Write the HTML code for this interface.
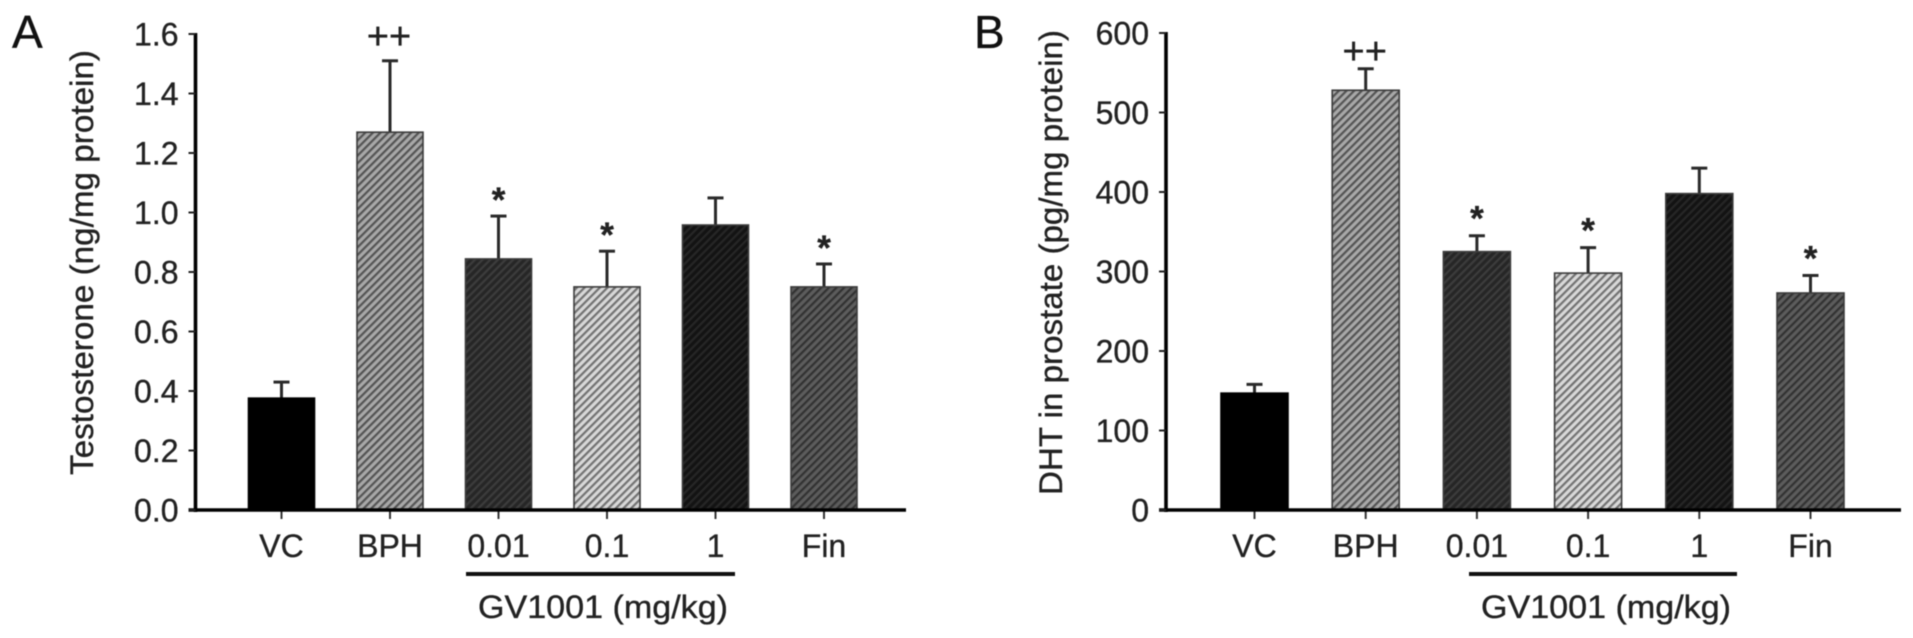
<!DOCTYPE html>
<html lang="en">
<head>
<meta charset="utf-8">
<title>Testosterone and DHT bar charts</title>
<style>
  html, body { margin: 0; padding: 0; background: #fff; }
  body { width: 1913px; height: 638px; overflow: hidden; }
  svg { display: block; filter: blur(0.55px); }
  text { font-family: "Liberation Sans", Arial, sans-serif; fill: #222; stroke: #222; stroke-width: 0.35px; }
</style>
</head>
<body>
<svg id="figure" xmlns="http://www.w3.org/2000/svg" width="1913" height="638" viewBox="0 0 1913 638">
  <defs id="hatches"></defs>
  <rect width="1913" height="638" fill="#fff"></rect>
  <text x="12" y="48" font-size="46" style="fill:#111;stroke:#111">A</text>
  <text x="974" y="48" font-size="46" style="fill:#111;stroke:#111">B</text>
  <g id="panel-a"></g>
  <g id="panel-b"></g>
</svg>
<script>
const categories = ['VC', 'BPH', '0.01', '0.1', '1', 'Fin'];
const testosteroneValues = [0.376, 1.27, 0.844, 0.75, 0.958, 0.75];
const testosteroneErrorTops = [0.43, 1.51, 0.988, 0.87, 1.049, 0.827];
const testosteroneTicks = ['0.0', '0.2', '0.4', '0.6', '0.8', '1.0', '1.2', '1.4', '1.6'];
const dhtValues = [147, 528, 325, 298, 398, 273];
const dhtErrorTops = [158, 555, 345, 330, 430, 295];
const dhtTicks = ['0', '100', '200', '300', '400', '500', '600'];
const significance = ['', '++', '*', '*', '', '*'];

const NS = 'http://www.w3.org/2000/svg';

function make(parent, tag, attrs, text) {
  const el = document.createElementNS(NS, tag);
  for (const k in attrs) el.setAttribute(k, attrs[k]);
  if (text !== undefined) el.textContent = text;
  parent.appendChild(el);
  return el;
}

/* Hatch fills: one per category (background colour, stripe colour) */
const hatchDefs = document.getElementById('hatches');
function addHatch(id, bg, fg) {
  const p = make(hatchDefs, 'pattern', {
    id: id, patternUnits: 'userSpaceOnUse', width: 5.4, height: 5.4,
    patternTransform: 'rotate(45)'
  });
  make(p, 'rect', { width: 5.4, height: 5.4, fill: bg });
  make(p, 'rect', { width: 2.2, height: 5.4, fill: fg });
}
addHatch('hatch-bph', '#a8a8a8', '#545454');
addHatch('hatch-low', '#262626', '#3c3c3c');
addHatch('hatch-mid', '#d8d8d8', '#727272');
addHatch('hatch-high', '#131313', '#262626');
addHatch('hatch-fin', '#5c5c5c', '#323232');
const fills = ['#000', 'url(#hatch-bph)', 'url(#hatch-low)', 'url(#hatch-mid)', 'url(#hatch-high)', 'url(#hatch-fin)'];

function drawPanel(cfg) {
  const root = document.getElementById(cfg.id);
  const maxV = parseFloat(cfg.ticks[cfg.ticks.length - 1]);
  const y = v => cfg.y0 + (cfg.yTop - cfg.y0) * (v / maxV);
  const x = i => cfg.x0 + cfg.step * i;

  cfg.values.forEach((v, i) => {
    const cx = x(i);
    const err = make(root, 'line', { x1: cx, x2: cx, y1: y(v), y2: y(cfg.errs[i]), stroke: '#2a2a2a', 'stroke-width': 3 });
    
    

    const cap = make(root, 'line', { x1: cx - 8, x2: cx + 8, y1: y(cfg.errs[i]), y2: y(cfg.errs[i]), stroke: '#2a2a2a', 'stroke-width': 3 });
    
    

    const bar = make(root, 'rect', {
      x: cx - cfg.barW / 2, y: y(v), width: cfg.barW, height: cfg.y0 - y(v),
      fill: fills[i], stroke: i === 0 ? '#000' : '#3c3c3c', 'stroke-width': 1.6
    });
    
    

    const xt = make(root, 'line', { x1: cx, x2: cx, y1: cfg.y0, y2: cfg.y0 + 9, stroke: '#333', 'stroke-width': 2 });
    
    

    const lab = make(root, 'text', { x: cx, y: 557, 'font-size': 32, 'text-anchor': 'middle' }, categories[i]);
    
    

    const mark = significance[i];
    if (mark === '*') {
      const s = make(root, 'text', { x: cx, y: y(cfg.errs[i]) - cfg.starGap + 18, 'font-size': 35, 'font-weight': 'bold', 'text-anchor': 'middle' }, mark);
      
      
    } else if (mark) {
      const s = make(root, 'text', { x: cx - 1, y: y(cfg.errs[i]) - cfg.plusGap + 12, 'font-size': 38, 'text-anchor': 'middle' }, mark);
      
      
    }
  });

  const yAxis = make(root, 'line', { x1: cfg.axisX, x2: cfg.axisX, y1: cfg.yTop - 1, y2: cfg.y0 + 2, stroke: '#000', 'stroke-width': 3.6 });
  
  

  const xAxis = make(root, 'line', { x1: cfg.axisX - 7, x2: cfg.axisEnd, y1: cfg.y0, y2: cfg.y0, stroke: '#000', 'stroke-width': 3.6 });
  
  

  cfg.ticks.forEach(t => {
    const ty = y(parseFloat(t));
    const tick = make(root, 'line', { x1: cfg.axisX - 7, x2: cfg.axisX, y1: ty, y2: ty, stroke: '#222', 'stroke-width': 2 });
    
    

    const lab = make(root, 'text', { x: cfg.axisX - 17, y: ty + 11.5, 'font-size': 32, 'text-anchor': 'end' }, t);
    
    
  });

  const title = make(root, 'text', {
    transform: 'translate(' + cfg.titleX + ' ' + cfg.titleBottom + ') rotate(-90)',
    'font-size': 32, textLength: cfg.titleLen, lengthAdjust: 'spacingAndGlyphs'
  }, cfg.title);
  
  

  const rule = make(root, 'line', { x1: cfg.ruleX1, x2: cfg.ruleX2, y1: 574, y2: 574, stroke: '#111', 'stroke-width': 4 });
  
  

  const dose = make(root, 'text', { x: cfg.doseX, y: 618, 'font-size': 32, 'text-anchor': 'middle', textLength: 250, lengthAdjust: 'spacingAndGlyphs' }, 'GV1001 (mg/kg)');
  
  
}

drawPanel({
  id: 'panel-a', prefix: 'testosterone', values: testosteroneValues, errs: testosteroneErrorTops, ticks: testosteroneTicks,
  x0: 281.5, step: 108.5, barW: 66, y0: 510, yTop: 34, axisX: 195.5, axisEnd: 906,
  starGap: 22, plusGap: 24, title: 'Testosterone (ng/mg protein)', titleX: 93, titleBottom: 475, titleLen: 425,
  ruleX1: 466, ruleX2: 735, doseX: 603
});
drawPanel({
  id: 'panel-b', prefix: 'dht', values: dhtValues, errs: dhtErrorTops, ticks: dhtTicks,
  x0: 1254.5, step: 111.2, barW: 67, y0: 510, yTop: 33, axisX: 1166, axisEnd: 1901,
  starGap: 23, plusGap: 17, title: 'DHT in prostate (pg/mg protein)', titleX: 1062, titleBottom: 495, titleLen: 465,
  ruleX1: 1469, ruleX2: 1737, doseX: 1606
});
</script>
</body>
</html>
